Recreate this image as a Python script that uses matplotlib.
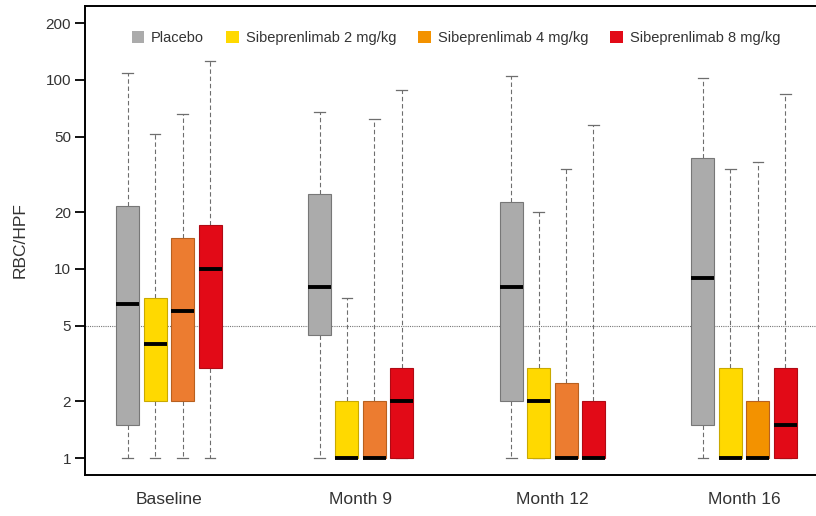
import numpy as np
import matplotlib
matplotlib.use('Agg')
import matplotlib.pyplot as plt
from matplotlib.patches import Patch

plt.rcParams['font.family'] = ['Liberation Sans', 'DejaVu Sans']

groups = ['Baseline', 'Month 9', 'Month 12', 'Month 16']
series = ['Placebo', 'Sibeprenlimab 2 mg/kg', 'Sibeprenlimab 4 mg/kg', 'Sibeprenlimab 8 mg/kg']

# box stats per series, one value per group (whisker low, q1, median, q3, whisker high)
placebo_lo = [1, 1, 1, 1]
placebo_q1 = [1.5, 4.5, 2, 1.5]
placebo_med = [6.5, 8, 8, 9]
placebo_q3 = [21.5, 25, 22.5, 38.5]
placebo_hi = [109, 68, 105, 103]

s2_lo = [1, 1, 1, 1]
s2_q1 = [2, 1, 1, 1]
s2_med = [4, 1, 2, 1]
s2_q3 = [7, 2, 3, 3]
s2_hi = [52, 7, 20, 34]

s4_lo = [1, 1, 1, 1]
s4_q1 = [2, 1, 1, 1]
s4_med = [6, 1, 1, 1]
s4_q3 = [14.5, 2, 2.5, 2]
s4_hi = [66, 62, 34, 37]

s8_lo = [1, 1, 1, 1]
s8_q1 = [3, 1, 1, 1]
s8_med = [10, 2, 1, 1.5]
s8_q3 = [17, 3, 2, 3]
s8_hi = [126, 88, 58, 84]

yticks = [1, 2, 5, 10, 20, 50, 100, 200]

all_stats = [
    (placebo_lo, placebo_q1, placebo_med, placebo_q3, placebo_hi),
    (s2_lo, s2_q1, s2_med, s2_q3, s2_hi),
    (s4_lo, s4_q1, s4_med, s4_q3, s4_hi),
    (s8_lo, s8_q1, s8_med, s8_q3, s8_hi),
]

face = {0: '#ABABAB', 1: '#FFD900', 2: '#EC7C30', 3: '#E20A17'}
edge = {0: '#777777', 1: '#C9A900', 2: '#B8601F', 3: '#B00A14'}
orange16 = '#F39200'

fig = plt.figure(figsize=(8.16, 5.16), dpi=100)
ax = fig.add_axes([85 / 816, 41 / 516, 743 / 816, 469.3 / 516])
ax.set_yscale('log')

ax.axhline(5, color='#777777', linestyle=(0, (1, 1)), linewidth=0.8, zorder=0.5)

step = 0.143
width = 0.12
for si, (lo, q1, med, q3, hi) in enumerate(all_stats):
    stats = []
    pos = []
    for gi in range(len(groups)):
        stats.append(dict(whislo=lo[gi], q1=q1[gi], med=med[gi], q3=q3[gi], whishi=hi[gi]))
        pos.append(gi + (si - 1.5) * step)
    bp = ax.bxp(stats, positions=pos, widths=width, patch_artist=True, showfliers=False,
                capwidths=0.055,
                boxprops=dict(linewidth=0.8, zorder=2),
                medianprops=dict(color='black', linewidth=2.8, solid_capstyle='butt', zorder=3),
                whiskerprops=dict(color='#6E6E6E', linewidth=0.8, linestyle=(0, (4, 2.5)), zorder=1.5),
                capprops=dict(color='#6E6E6E', linewidth=0.9, zorder=1.5),
                manage_ticks=False)
    for gi, box in enumerate(bp['boxes']):
        fc = face[si]
        if si == 2 and gi == 3:
            fc = orange16
        box.set_facecolor(fc)
        box.set_edgecolor(edge[si])

ax.set_xlim(-0.4375, 3.4375)
ax.set_ylim(0.813, 247)
ax.set_yticks(yticks)
ax.set_yticklabels([str(t) for t in yticks])
ax.yaxis.set_minor_locator(matplotlib.ticker.NullLocator())
ax.tick_params(axis='y', length=7, width=1.3, labelsize=11, labelcolor='#333333', pad=3)
ax.set_xticks(range(len(groups)))
ax.set_xticklabels(groups)
ax.tick_params(axis='x', length=0, labelsize=12.5, labelcolor='#333333', pad=12)

for s in ax.spines.values():
    s.set_linewidth(1.4)
ax.spines['right'].set_visible(False)

ax.set_ylabel('RBC/HPF', fontsize=12.5, color='#333333')
ax.yaxis.set_label_coords(-0.0767, 0.5)

legend_colors = ['#ABABAB', '#FFD900', '#F39200', '#E20A17']
handles = [Patch(facecolor=c, edgecolor='none', label=n) for c, n in zip(legend_colors, series)]
ax.legend(handles=handles, loc='center', bbox_to_anchor=(0.4993, 0.931), ncol=4, frameon=False,
          fontsize=10.5, handlelength=0.85, handleheight=0.85, handletextpad=0.5,
          columnspacing=1.5, labelcolor='#333333')

fig.savefig('out.png', dpi=100)
